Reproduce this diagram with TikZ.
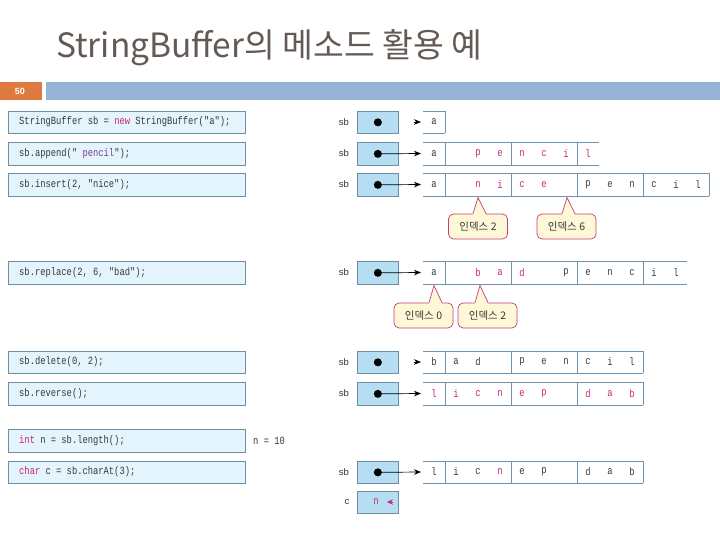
\documentclass[tikz,border=0pt]{standalone}
\usepackage{fontspec}
\setmainfont{Liberation Sans}
\setmonofont[FakeStretch=0.8]{Liberation Mono}
\newfontfamily\krfont{Noto Sans CJK KR}
\usetikzlibrary{arrows.meta,calc}
\definecolor{titlegray}{RGB}{100,90,85}
\definecolor{numorange}{RGB}{222,122,64}
\definecolor{barblue}{RGB}{148,179,213}
\definecolor{codefill}{RGB}{228,244,252}
\definecolor{codeborder}{RGB}{112,142,162}
\definecolor{sbfill}{RGB}{182,222,242}
\definecolor{arrline}{RGB}{112,146,170}
\definecolor{mag}{RGB}{200,36,120}
\definecolor{darktext}{RGB}{55,55,60}
\definecolor{strcol}{RGB}{120,60,140}
\definecolor{callfill}{RGB}{255,248,214}
\definecolor{callborder}{RGB}{196,60,120}
\newcommand\arrrow[4]{%
  \draw[arr] (423,#1) -- (#3,#1) (423,#2) -- (#3,#2);
  \foreach \vx in {#4} {\draw[arr] (\vx,#1) -- (\vx,#2);}
}
\begin{document}
\begin{tikzpicture}[x=1pt,y=-1pt,
  codebox/.style={draw=codeborder, fill=codefill, line width=0.7pt, anchor=north west,
    minimum width=237pt, minimum height=22pt, inner sep=0pt},
  codetext/.style={anchor=west, font=\ttfamily\fontsize{11}{11}\selectfont, text=darktext, inner sep=0pt},
  ptrbox/.style={draw=codeborder, fill=sbfill, line width=0.7pt, anchor=north west,
    minimum width=41pt, minimum height=22pt, inner sep=0pt},
  arr/.style={draw=arrline, line width=0.7pt},
  chr/.style={font=\ttfamily\fontsize{11}{11}\selectfont, text=darktext, inner sep=0pt, anchor=center},
  lbl/.style={font=\fontsize{9.5}{9.5}\selectfont, text=darktext, inner sep=0pt},
  ptr/.style={draw=black, line width=0.7pt, -{Stealth[length=7pt,width=5.5pt]}},
  callbox/.style={draw=callborder, fill=callfill, rounded corners=5pt, line width=0.7pt,
    font=\krfont\fontsize{10.5}{10.5}\selectfont, text=darktext, minimum width=59pt, minimum height=25pt, inner sep=0pt}
]
\useasboundingbox (0,0) rectangle (720,540);
% title and header bar
\node[anchor=base west, font=\krfont\fontsize{33.5}{33.5}\selectfont, text=titlegray, inner sep=0pt] (title) at (56,58) {StringBuffer의 메소드 활용 예};
\fill[numorange] (0,82) rectangle (42,100);
\fill[barblue] (46,82) rectangle (720,100);
\node[font=\fontsize{9}{9}\selectfont\bfseries, text=white, inner sep=0pt] (pagenum) at (20,91) {50};

% code boxes
\foreach \r/\yt/\h in {1/111/22, 2/142/23, 3/173/23, 4/261/23, 5/351/22, 6/382/23, 7/429/23, 8/461/22} {
  \node[codebox, minimum height=\h pt] (code\r) at (8,\yt) {};
}
\node[codetext] (ct1) at (19,122) {StringBuffer sb = \textcolor{mag}{new} StringBuffer("a");};
\node[codetext] (ct2) at (19,153.5) {sb.append("\ \textcolor{strcol}{pencil}");};
\node[codetext] (ct3) at (19,184.5) {sb.insert(2, "nice");};
\node[codetext] (ct4) at (19,272.5) {sb.replace(2, 6, "bad");};
\node[codetext] (ct5) at (19,362) {sb.delete(0, 2);};
\node[codetext] (ct6) at (19,393.5) {sb.reverse();};
\node[codetext] (ct7) at (19,440.5) {\textcolor{mag}{int} n = sb.length();};
\node[codetext] (ct8) at (19,472) {\textcolor{mag}{char} c = sb.charAt(3);};
\node[codetext] (nres) at (253,440.5) {n = 10};

% pointer boxes and labels
\foreach \r/\yt/\h in {1/111/22, 2/142/23, 3/173/23, 4/261/23, 5/351/22, 6/382/23, 8/461/22} {
  \node[ptrbox, minimum height=\h pt] (p\r) at (357,\yt) {};
  \node[lbl] (sb\r) at (344,\yt+\h/2) {sb};
  \fill (p\r.center) circle (4pt);
}
% arrows
\coordinate (a1) at (421,122);   \coordinate (s1) at (414,122);
\coordinate (a2) at (421,153.5);
\coordinate (a3) at (421,184.5);
\coordinate (a4) at (421,272.5);
\coordinate (a5) at (421,362);   \coordinate (s5) at (414,362);
\coordinate (a6) at (421,393.5);
\coordinate (a8) at (421,472);
\draw[ptr] (s1) -- (a1);
\draw[ptr] (p2.center) -- (a2);
\draw[ptr] (p3.center) -- (a3);
\draw[ptr] (p4.center) -- (a4);
\draw[ptr] (s5) -- (a5);
\draw[ptr] (p6.center) -- (a6);
\draw[ptr] (p8.center) -- (a8);

% arrays
\arrrow{111}{133}{445}{445}
\arrrow{142}{165}{599}{445,511,577}
\arrrow{173}{196}{709}{445,511,577,643,709}
\arrrow{261}{284}{687}{445,511,577,643}
\arrrow{351}{373}{643}{445,511,577,643}
\arrrow{382}{405}{643}{445,511,577,643}
\arrrow{461}{483}{643}{445,511,577,643}

\foreach \k/\ch/\col in {0/a/darktext}
  \node[chr, text=\col] (r1c\k) at ({434+22*\k},122) {\ch};
\foreach \k/\ch/\col in {0/a/darktext,2/p/mag,3/e/mag,4/n/mag,5/c/mag,6/i/mag,7/l/mag}
  \node[chr, text=\col] (r2c\k) at ({434+22*\k},153.5) {\ch};
\foreach \k/\ch/\col in {0/a/darktext,2/n/mag,3/i/mag,4/c/mag,5/e/mag,7/p/darktext,8/e/darktext,9/n/darktext,10/c/darktext,11/i/darktext,12/l/darktext}
  \node[chr, text=\col] (r3c\k) at ({434+22*\k},184.5) {\ch};
\foreach \k/\ch/\col in {0/a/darktext,2/b/mag,3/a/mag,4/d/mag,6/p/darktext,7/e/darktext,8/n/darktext,9/c/darktext,10/i/darktext,11/l/darktext}
  \node[chr, text=\col] (r4c\k) at ({434+22*\k},272.5) {\ch};
\foreach \k/\ch/\col in {0/b/darktext,1/a/darktext,2/d/darktext,4/p/darktext,5/e/darktext,6/n/darktext,7/c/darktext,8/i/darktext,9/l/darktext}
  \node[chr, text=\col] (r5c\k) at ({434+22*\k},362) {\ch};
\foreach \k/\ch/\col in {0/l/mag,1/i/mag,2/c/mag,3/n/mag,4/e/mag,5/p/mag,7/d/mag,8/a/mag,9/b/mag}
  \node[chr, text=\col] (r6c\k) at ({434+22*\k},393.5) {\ch};
\foreach \k/\ch/\col in {0/l/darktext,1/i/darktext,2/c/darktext,3/n/mag,4/e/darktext,5/p/darktext,7/d/darktext,8/a/darktext,9/b/darktext}
  \node[chr, text=\col] (r8c\k) at ({434+22*\k},472) {\ch};

% char c box
\node[ptrbox, minimum height=22pt] (cbox) at (357,491) {};
\node[lbl] (clbl) at (347,502) {c};
\node[chr, text=mag] (cval) at (376,502) {n};
\coordinate (cq1) at (393,502); \coordinate (cq2) at (387,502);
\draw[draw=mag, line width=0.7pt, -{Stealth[length=6pt,width=5.5pt]}] (cq1) -- (cq2);

% callouts
\node[callbox] (cA) at (478,226.5) {인덱스 2};
\node[callbox] (cB) at (566.5,226.5) {인덱스 6};
\node[callbox] (cC) at (423.5,315.5) {인덱스 0};
\node[callbox] (cD) at (487.5,315.5) {인덱스 2};
\coordinate (tA) at (478,197.5);
\coordinate (tB) at (567,197.5);
\coordinate (tC) at (434,285.5);
\coordinate (tD) at (480,285.5);
\foreach \c in {A,B,C,D} {
  \path (c\c.north -| t\c) coordinate (b\c);
  \fill[callfill] ([xshift=-5pt,yshift=-1.2pt]b\c) -- (t\c) -- ([xshift=8pt,yshift=-1.2pt]b\c) -- cycle;
  \draw[callborder, line width=0.7pt] ([xshift=-5pt]b\c) -- (t\c) -- ([xshift=8pt]b\c);
}
\end{tikzpicture}
\end{document}
